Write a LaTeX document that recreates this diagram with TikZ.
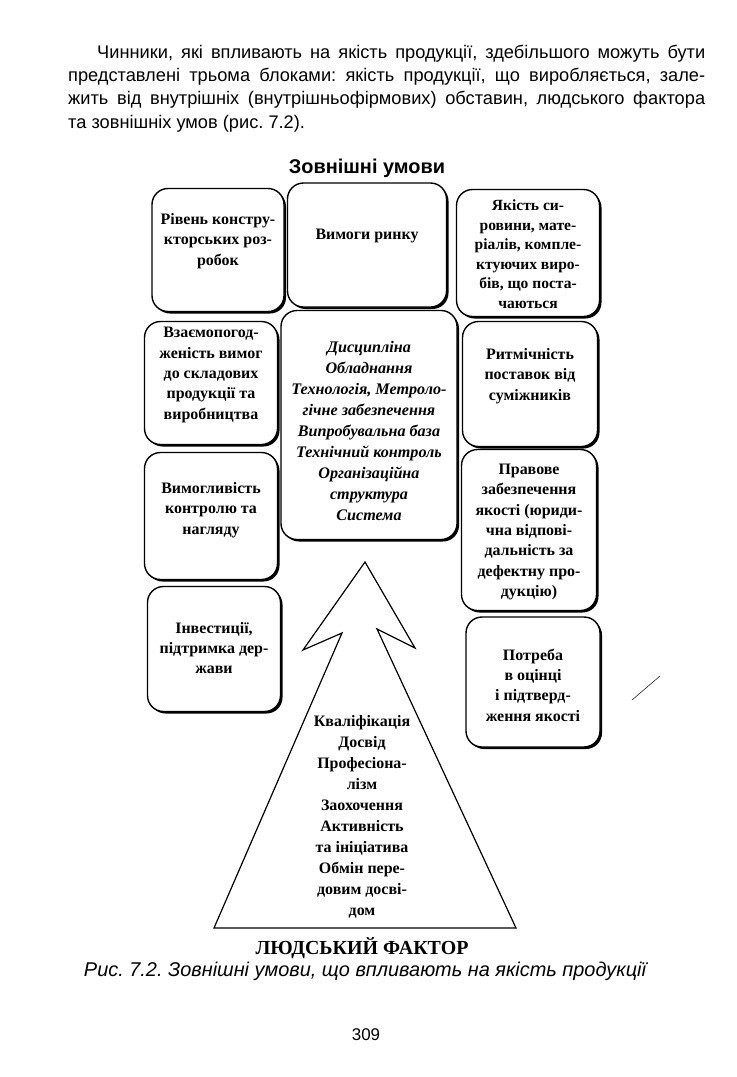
\documentclass[tikz,border=0pt]{standalone}
\usepackage{fontspec}
\setmainfont{Liberation Serif}
\setsansfont{Liberation Sans}
\frenchspacing
\usetikzlibrary{shadows}

\begin{document}
\begin{tikzpicture}[x=1bp, y=-1bp,
    blok/.style={draw, line width=1.4bp, rounded corners=16bp, fill=white, inner sep=0pt,
        drop shadow={shadow xshift=2bp, shadow yshift=-2bp, opacity=1, fill=black}},
    bloktext/.style={align=center, inner sep=0pt, font=\fontsize{16}{20.5}\selectfont\bfseries},
    kursiv/.style={align=center, inner sep=0pt, font=\fontsize{16.2}{21}\selectfont\bfseries\itshape},
    rjadok/.style={anchor=base west, inner sep=0pt, font=\sffamily\fontsize{18.3}{20}\selectfont}]
    \useasboundingbox (0,0) rectangle (737,1077);

    % text above the figure
    \node[rjadok] (r1) at (97,58) {\makebox[608bp][s]{Чинники, які впливають на якість продукції, здебільшого можуть бути}};
    \node[rjadok] (r2) at (68,81) {\makebox[637bp][s]{представлені трьома блоками: якість продукції, що виробляється, зале-}};
    \node[rjadok] (r3) at (68,104) {\makebox[637bp][s]{жить від внутрішніх (внутрішньофірмових) обставин, людського фактора}};
    \node[rjadok] (r4) at (68,128) {та зовнішніх умов (рис. 7.2).};

    \node[font=\sffamily\bfseries\fontsize{20}{22}\selectfont] (zovn) at (367,168) {Зовнішні умови};

    % left column
    \node[blok, minimum width=132bp, minimum height=123bp] (l1) at (218,250) {};
    \node[blok, minimum width=133bp, minimum height=123bp] (l2) at (211,383) {};
    \node[blok, minimum width=133bp, minimum height=127bp] (l3) at (211,516) {};
    \node[blok, minimum width=133bp, minimum height=125bp] (l4) at (214,649) {};
    % middle
    \node[blok, minimum width=159bp, minimum height=124bp] (m1) at (367,245) {};
    \node[blok, minimum width=176bp, minimum height=229bp] (m2) at (369,425) {};
    % right column
    \node[blok, minimum width=143bp, minimum height=127bp] (p1) at (528,253) {};
    \node[blok, minimum width=135bp, minimum height=125bp] (p2) at (530,384) {};
    \node[blok, minimum width=135bp, minimum height=161bp] (p3) at (529,530) {};
    \node[blok, minimum width=134bp, minimum height=130bp] (p4) at (533,682) {};

    \node[bloktext] (l1t) at (218,241) {Рівень констру-\\кторських роз-\\робок};
    \node[bloktext] (l2t) at (211,375) {Взаємопогод-\\женість вимог\\до складових\\продукції та\\виробництва};
    \node[bloktext] (l3t) at (211,510) {Вимогливість\\контролю та\\нагляду};
    \node[bloktext] (l4t) at (214,648) {Інвестиції,\\підтримка дер-\\жави};
    \node[bloktext] (m1t) at (367,236) {Вимоги ринку};
    \node[kursiv] (m2t) at (369,431) {Дисципліна\\Обладнання\\Технологія, Метроло-\\гічне забезпечення\\Випробувальна база\\Технічний контроль\\Організаційна\\структура\\Система};
    \node[bloktext, font=\fontsize{15.6}{19.6}\selectfont\bfseries] (p1t) at (528,254) {Якість си-\\ровини, мате-\\ріалів, компле-\\ктуючих виро-\\бів, що поста-\\чаються};
    \node[bloktext] (p2t) at (530,376) {Ритмічність\\поставок від\\суміжників};
    \node[bloktext] (p3t) at (529,532) {Правове\\забезпечення\\якості (юриди-\\чна відпові-\\дальність за\\дефектну про-\\дукцію)};
    \node[bloktext] (p4t) at (533,685) {Потреба\\в оцінці\\і підтверд-\\ження якості};

    % human factor: triangle with arrow head
    \draw[line width=1.2bp, line join=miter] (365,562) -- (415,648) -- (377,629) -- (516,928)
        -- (214,928) -- (342,633) -- (303,650) -- cycle;
    \node[bloktext, font=\fontsize{16}{21.1}\selectfont\bfseries] (ljud) at (362,817)
        {Кваліфікація\\Досвід\\Професіона-\\лізм\\Заохочення\\Активність\\та ініціатива\\Обмін пере-\\довим досві-\\дом};
    \draw[line width=0.5bp] (632,700) -- (660,676);

    \node[font=\bfseries\fontsize{20}{22}\selectfont] (faktor) at (362,948) {ЛЮДСЬКИЙ ФАКТОР};
    \node[font=\sffamily\itshape\fontsize{20}{22}\selectfont] (pidpys) at (365,971) {Рис. 7.2. Зовнішні умови, що впливають на якість продукції};
    \node[font=\sffamily\fontsize{17}{19}\selectfont] (storinka) at (366,1035) {309};
\end{tikzpicture}
\end{document}
